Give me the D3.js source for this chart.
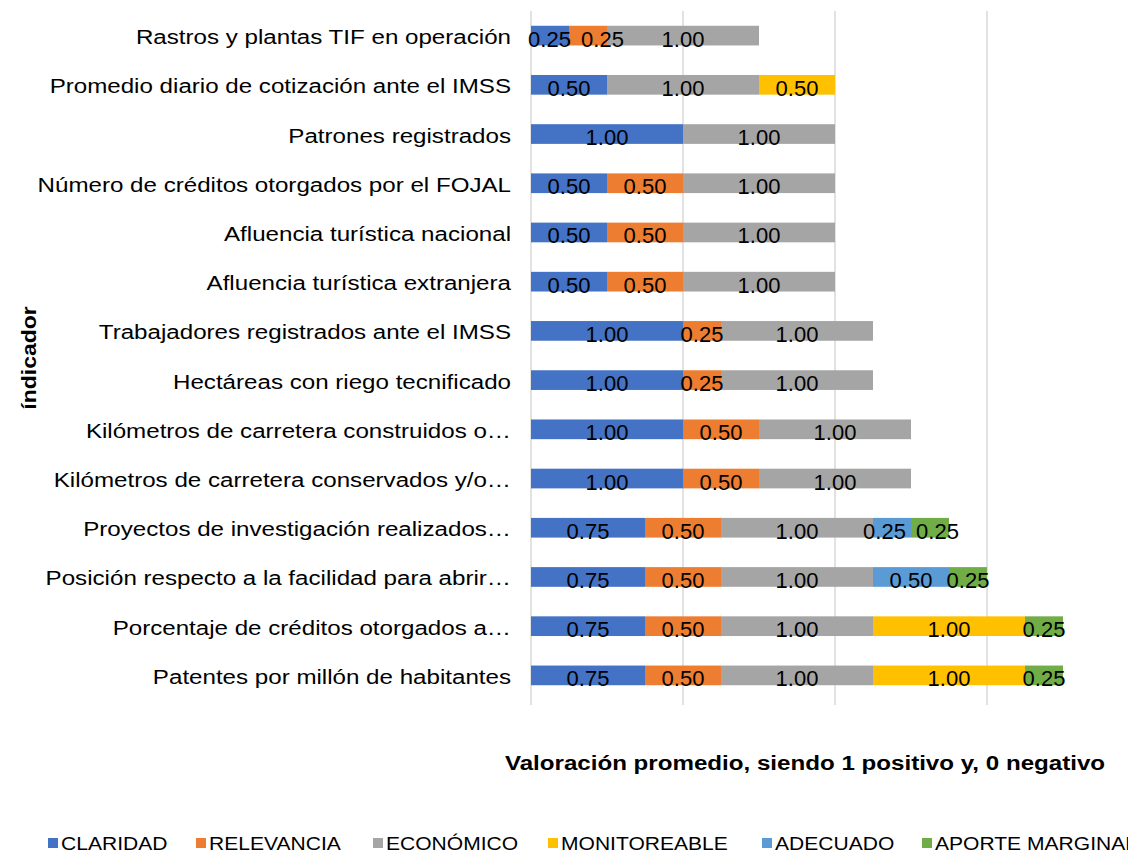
<!DOCTYPE html>
<html>
<head>
<meta charset="utf-8">
<script src="https://cdn.jsdelivr.net/npm/d3@7"></script>
<style>
  body { margin: 0; background: #fff; overflow: hidden; }
  text { font-family: "Liberation Sans", Arial, sans-serif; }
</style>
</head>
<body>
<svg id="chart" width="1128" height="854"></svg>
<script>
const categories = [
    "Rastros y plantas TIF en operación",
    "Promedio diario de cotización ante el IMSS",
    "Patrones registrados",
    "Número de créditos otorgados por el FOJAL",
    "Afluencia turística nacional",
    "Afluencia turística extranjera",
    "Trabajadores registrados ante el IMSS",
    "Hectáreas con riego tecnificado",
    "Kilómetros de carretera construidos o…",
    "Kilómetros de carretera conservados y/o…",
    "Proyectos de investigación realizados…",
    "Posición respecto a la facilidad para abrir…",
    "Porcentaje de créditos otorgados a…",
    "Patentes por millón de habitantes"
];
const seriesNames = ["CLARIDAD", "RELEVANCIA", "ECONÓMICO", "MONITOREABLE", "ADECUADO", "APORTE MARGINAL"];
const seriesColors = ["#4472C4", "#ED7D31", "#A5A5A5", "#FFC000", "#5B9BD5", "#70AD47"];

const claridad     = [0.25, 0.50, 1.00, 0.50, 0.50, 0.50, 1.00, 1.00, 1.00, 1.00, 0.75, 0.75, 0.75, 0.75];
const relevancia   = [0.25, 0,    0,    0.50, 0.50, 0.50, 0.25, 0.25, 0.50, 0.50, 0.50, 0.50, 0.50, 0.50];
const economico    = [1.00, 1.00, 1.00, 1.00, 1.00, 1.00, 1.00, 1.00, 1.00, 1.00, 1.00, 1.00, 1.00, 1.00];
const monitoreable = [0,    0.50, 0,    0,    0,    0,    0,    0,    0,    0,    0,    0,    1.00, 1.00];
const adecuado     = [0,    0,    0,    0,    0,    0,    0,    0,    0,    0,    0.25, 0.50, 0,    0];
const aporte       = [0,    0,    0,    0,    0,    0,    0,    0,    0,    0,    0.25, 0.25, 0.25, 0.25];
const xTicks = [0, 1, 2, 3, 4];

const seriesValues = [claridad, relevancia, economico, monitoreable, adecuado, aporte];

const svg = d3.select("#chart");
const plot = { left: 531, right: 1139, top: 11, bottom: 700 };
// text in the original is a bit wider than plain Arial
const stretch = 1.15;

const x = d3.scaleLinear().domain([0, 4]).range([plot.left, plot.right]);
const y = d3.scaleBand().domain(categories).range([plot.top, plot.bottom]).paddingInner(0.6).paddingOuter(0.3);

// gridlines
svg.append("g")
    .selectAll("line")
    .data(xTicks)
    .join("line")
    .attr("x1", d => x(d))
    .attr("x2", d => x(d))
    .attr("y1", plot.top)
    .attr("y2", plot.bottom + 5)
    .attr("stroke", "#d9d9d9")
    .attr("stroke-width", 1.5);

// stacked data
const table = categories.map((c, i) => {
    let row = { cat: c };
    seriesNames.forEach((s, j) => { row[s] = seriesValues[j][i]; });
    return row;
});
const stacked = d3.stack().keys(seriesNames)(table);

const layers = svg.append("g")
    .selectAll("g")
    .data(stacked)
    .join("g")
    .attr("fill", (d, i) => seriesColors[i]);

layers.selectAll("rect")
    .data(d => d.filter(p => p[1] - p[0] > 0))
    .join("rect")
    .attr("x", d => x(d[0]))
    .attr("width", d => x(d[1]) - x(d[0]))
    .attr("y", d => y(d.data.cat))
    .attr("height", y.bandwidth());

// data labels, collected per row so crowded ones can be pushed apart a little
const labelW = 43, labelGap = 10;
let labels = [];
categories.forEach((c, i) => {
    let row = [];
    stacked.forEach(layer => {
        const p = layer[i];
        if (p[1] - p[0] > 0) {
            row.push({ cat: c, value: p[1] - p[0], cx: (x(p[0]) + x(p[1])) / 2 });
        }
    });
    for (let k = 1; k < row.length; k++) {
        const a = row[k - 1], b = row[k];
        const overlap = (a.cx + labelW / 2 + labelGap) - (b.cx - labelW / 2);
        if (overlap > 0) {
            let moveA = Math.min(overlap / 2, Math.max(0, a.cx - labelW / 2 - (plot.left - 3)));
            a.cx -= moveA;
            b.cx += overlap - moveA;
        }
    }
    labels = labels.concat(row);
});

svg.append("g")
    .selectAll("text")
    .data(labels)
    .join("text")
    .attr("x", d => d.cx)
    .attr("y", d => y(d.cat) + y.bandwidth() / 2 + 11)
    .attr("text-anchor", "middle")
    .attr("font-size", "22px")
    .attr("fill", "#000")
    .text(d => d.value.toFixed(2));

// category labels
svg.append("g")
    .selectAll("text")
    .data(categories)
    .join("text")
    .attr("transform", d => `translate(511, ${y(d) + y.bandwidth() / 2 + 8.5}) scale(${stretch}, 1)`)
    .attr("text-anchor", "end")
    .attr("font-size", "21px")
    .attr("fill", "#000")
    .text(d => d);

// axis titles
svg.append("text")
    .attr("transform", `translate(36, 358) rotate(-90) scale(${stretch}, 1)`)
    .attr("text-anchor", "middle")
    .attr("font-size", "20px")
    .attr("font-weight", "bold")
    .text("índicador");

svg.append("text")
    .attr("transform", `translate(805, 770) scale(${stretch}, 1)`)
    .attr("text-anchor", "middle")
    .attr("font-size", "21px")
    .attr("font-weight", "bold")
    .text("Valoración promedio, siendo 1 positivo y, 0 negativo");

// legend
const legendX = [48, 196, 373, 548, 762, 922];
const legend = svg.append("g")
    .selectAll("g")
    .data(seriesNames)
    .join("g")
    .attr("transform", (d, i) => `translate(${legendX[i]}, 843)`);
legend.append("rect")
    .attr("x", 0)
    .attr("y", -5)
    .attr("width", 10)
    .attr("height", 10)
    .attr("fill", (d, i) => seriesColors[i]);
legend.append("text")
    .attr("transform", `translate(13, 7) scale(1.17, 1)`)
    .attr("font-size", "18px")
    .text(d => d);
</script>
</body>
</html>
